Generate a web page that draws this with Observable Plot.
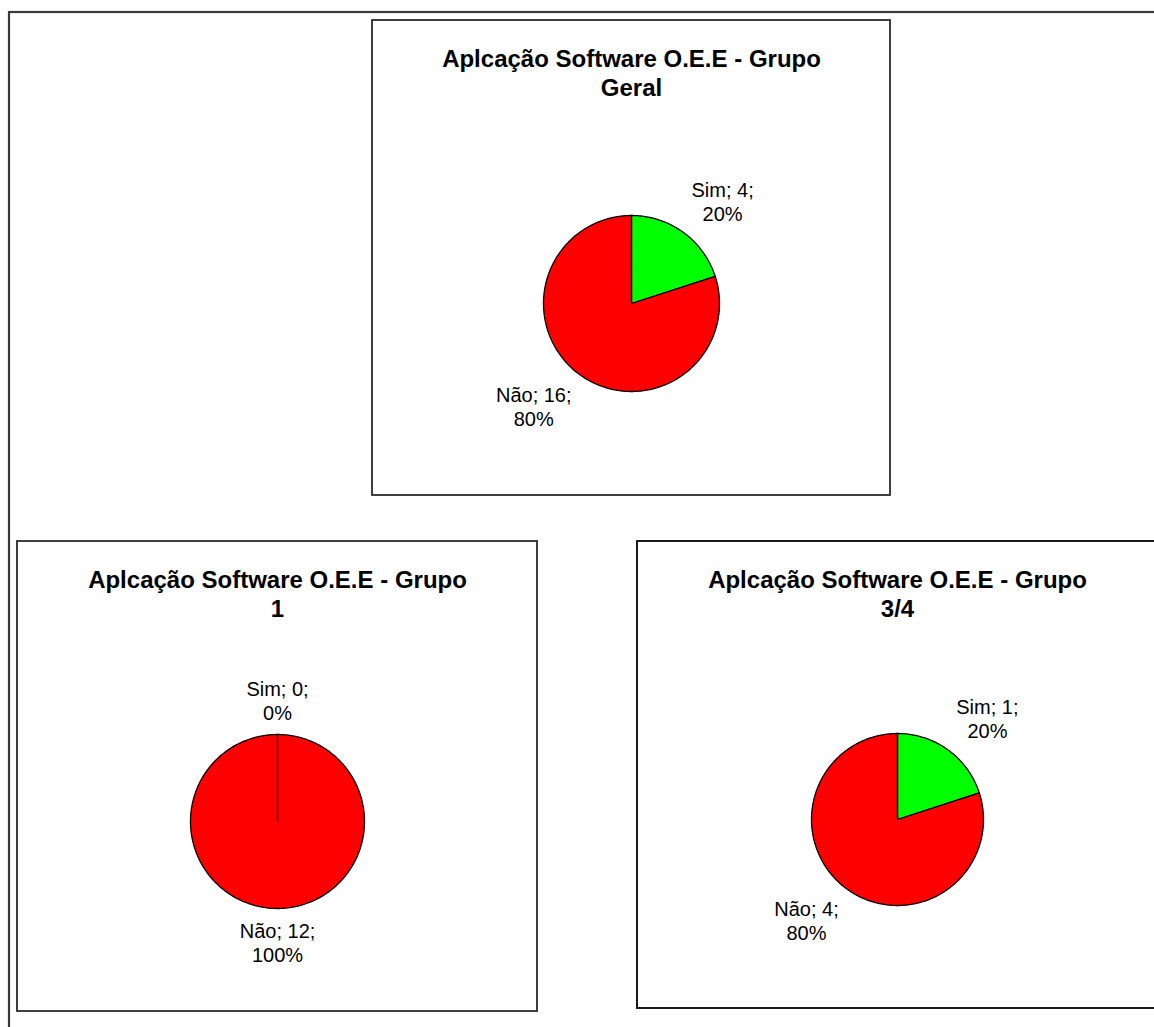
<!DOCTYPE html>
<html><head><meta charset="utf-8">
<script src="https://cdn.jsdelivr.net/npm/d3@7"></script>
<script src="https://cdn.jsdelivr.net/npm/@observablehq/plot@0.6"></script>
<style>html,body{margin:0;padding:0;background:#fff;overflow:hidden}#chart svg{display:block}</style>
</head><body><div id="chart"></div>
<script>
// ---- data ----
const titlePrefix = "Aplcação Software O.E.E - Grupo";
const groups = ["Geral", "1", "3/4"];
const categories = ["Sim", "Não"];
const simValues = [4, 0, 1];
const naoValues = [16, 12, 4];
const sliceColors = ["#00FF00", "#FF0000"];

// ---- layout ----
const W = 1154, H = 1027;
const FONT = "'Liberation Sans', Arial, Helvetica, sans-serif";
const panelBoxes = [
  {x1: 372, y1: 20, x2: 890, y2: 495, cx: 631, cy: 303, r: 88, stroke: "#2b2b2b", sw: 2},
  {x1: 17, y1: 541, x2: 537, y2: 1011, cx: 277, cy: 821, r: 87, stroke: "#2b2b2b", sw: 2},
  {x1: 637, y1: 541, x2: 1160, y2: 1008, cx: 897, cy: 819, r: 86, stroke: "#000", sw: 1.5}
];
const LABEL_SIZE = 20, LABEL_LH = 1.2, LABEL_GAP = 14;

const ctx = document.createElement("canvas").getContext("2d");
ctx.font = `${LABEL_SIZE}px ${FONT}`;
const textW = s => Math.max(...s.split("\n").map(l => ctx.measureText(l).width));

const panels = groups.map((g, i) => ({...panelBoxes[i], title: `${titlePrefix}\n${g}`, values: [simValues[i], naoValues[i]]}));

const slicePts = [];
const labels = [];
panels.forEach((p, pi) => {
  const total = d3.sum(p.values);
  let a = 0;
  p.values.forEach((v, si) => {
    const a0 = a, a1 = a + (v / total) * 2 * Math.PI;
    a = a1;
    const id = `${pi}-${si}`;
    const color = sliceColors[si];
    slicePts.push({id, color, x: p.cx, y: p.cy});
    const n = Math.max(2, Math.ceil((a1 - a0) / (Math.PI / 180)));
    for (let k = 0; k <= n; k++) {
      const t = a0 + (a1 - a0) * k / n;
      slicePts.push({id, color, x: p.cx + p.r * Math.sin(t), y: p.cy - p.r * Math.cos(t)});
    }
    slicePts.push({id, color, x: p.cx, y: p.cy});
    // label
    const text = `${categories[si]}; ${v};\n${Math.round(v / total * 100)}%`;
    const mid = (a0 + a1) / 2;
    const dx = Math.sin(mid), dy = -Math.cos(mid);
    const sg = z => Math.abs(z) < 1e-6 ? 0 : Math.sign(z);
    const w = textW(text), h = LABEL_SIZE * LABEL_LH * 2 - 8;
    labels.push({
      text,
      x: p.cx + (p.r + LABEL_GAP) * dx + sg(dx) * w / 2,
      y: p.cy + (p.r + LABEL_GAP) * dy + sg(dy) * h / 2
    });
  });
});

const chart = Plot.plot({
  width: W, height: H,
  margin: 0,
  style: {fontFamily: FONT, background: "#fff"},
  x: {domain: [0, W], range: [0, W], axis: null},
  y: {domain: [0, H], range: [0, H], axis: null},
  color: {type: "identity"},
  marks: [
    Plot.rect([{x1: 9, y1: 12, x2: W + 20, y2: H + 20}], {x1: "x1", y1: "y1", x2: "x2", y2: "y2", fill: "#fff", stroke: "#3a3a3a", strokeWidth: 2.2}),
    Plot.rect(panels, {x1: "x1", y1: "y1", x2: "x2", y2: "y2", fill: "#fff", stroke: "stroke", strokeWidth: 1.8}),
    Plot.line(slicePts, {x: "x", y: "y", z: "id", fill: "color", stroke: "#000", strokeWidth: 1.3, curve: "linear", strokeLinejoin: "round"}),
    Plot.text(panels, {x: d => (d.x1 + Math.min(d.x2, d.x1 + 520)) / 2, y: d => d.y1 + 27, text: "title", fontSize: 24, fontWeight: "bold", lineHeight: 1.17, lineAnchor: "top", fill: "#000", fontFamily: FONT}),
    Plot.text(labels, {x: "x", y: "y", text: "text", fontSize: LABEL_SIZE, lineHeight: LABEL_LH, lineAnchor: "middle", fill: "#000", fontFamily: FONT})
  ]
});
document.getElementById("chart").append(chart);
</script></body></html>
